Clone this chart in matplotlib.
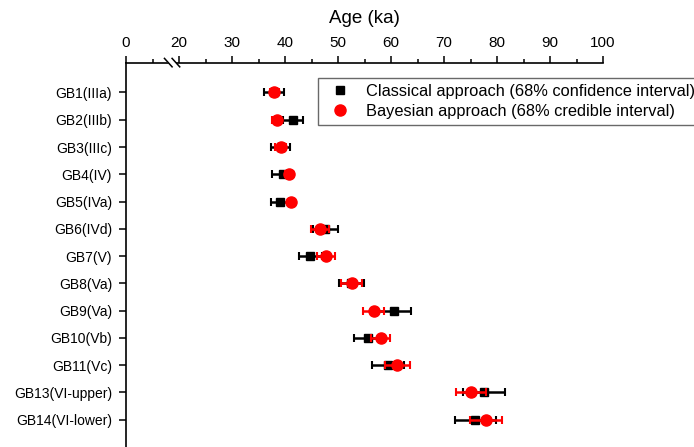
import numpy as np
import matplotlib
matplotlib.use('Agg')
import matplotlib.pyplot as plt
from matplotlib.lines import Line2D

plt.rcParams['font.family'] = ['Liberation Sans', 'DejaVu Sans']

labels = ['GB1(IIIa)', 'GB2(IIIb)', 'GB3(IIIc)', 'GB4(IV)', 'GB5(IVa)', 'GB6(IVd)', 'GB7(V)',
          'GB8(Va)', 'GB9(Va)', 'GB10(Vb)', 'GB11(Vc)', 'GB13(VI-upper)', 'GB14(VI-lower)']
classical = [38.0, 41.5, 39.2, 39.6, 39.1, 47.6, 44.8, 52.5, 60.6, 55.7, 59.4, 77.5, 75.9]
classical_err = [1.9, 1.9, 1.8, 2.0, 1.8, 2.4, 2.1, 2.4, 3.2, 2.6, 3.0, 4.0, 3.9]
bayes = [38.0, 38.4, 39.2, 40.8, 41.1, 46.6, 47.8, 52.6, 56.7, 58.1, 61.2, 75.1, 77.9]
bayes_err = [0.9, 0.8, 1.0, 0.8, 0.6, 1.7, 1.7, 2.0, 1.9, 1.8, 2.3, 2.9, 3.0]
xticks = [0, 20, 30, 40, 50, 60, 70, 80, 90, 100]
xminor = [10, 25, 35, 45, 55, 65, 75, 85, 95]


# axis is broken: 0-20 squeezed into the width of 10 units
def fwd(x):
	x = np.asarray(x, dtype=float)
	return np.where(x < 20, 10 + x / 2, x)


def inv(x):
	x = np.asarray(x, dtype=float)
	return np.where(x < 20, (x - 10) * 2, x)


fig = plt.figure(figsize=(6.94, 4.47), dpi=100)
ax = fig.add_axes([126 / 694, 0, 477 / 694, 384 / 447])
ax.set_xscale('function', functions=(fwd, inv))

y = np.arange(len(labels))

ax.errorbar(classical, y, xerr=classical_err, fmt='s', color='black', ms=6.2, lw=1.8,
			capsize=3, capthick=1.5, zorder=3)
ax.errorbar(bayes, y, xerr=bayes_err, fmt='o', color='red', ms=8, lw=1.8,
			capsize=3, capthick=1.5, zorder=4)

ax.set_xlim(0, 100)
ax.set_ylim(13.0, -1.08)
ax.set_yticks(y)
ax.set_yticklabels(labels, fontsize=10)
ax.set_xticks(xticks)
ax.set_xticklabels([str(t) for t in xticks], fontsize=11)
ax.set_xticks(xminor, minor=True)
ax.xaxis.tick_top()
ax.xaxis.set_label_position('top')
ax.set_xlabel('Age (ka)', fontsize=13.5, labelpad=9)

ax.spines['right'].set_visible(False)
ax.spines['bottom'].set_visible(False)
for s in ['top', 'left']:
	ax.spines[s].set_linewidth(1.2)
ax.tick_params(axis='x', which='major', length=5, width=1.1, pad=4.5)
ax.tick_params(axis='x', which='minor', length=2.7, width=1.1)
ax.tick_params(axis='y', which='major', length=5, width=1.1, pad=5)

# break marks on the top axis
bx = (174 - 126) / 477
ax.plot([bx - 0.014, bx + 0.004], [1.012, 0.99], transform=ax.transAxes,
		color='white', lw=4, clip_on=False, zorder=5)
for dx in (-0.012, 0.004):
	ax.plot([bx + dx - 0.008, bx + dx + 0.008], [1.012, 0.99], transform=ax.transAxes,
			color='black', lw=1.1, clip_on=False, zorder=6)

handles = [Line2D([], [], marker='s', color='black', ls='none', ms=6.2),
		   Line2D([], [], marker='o', color='red', ls='none', ms=8)]
leg = fig.legend(handles, ['Classical approach (68% confidence interval)',
						   'Bayesian approach (68% credible interval)'],
				 loc='upper left', bbox_to_anchor=(318 / 694, 1 - 78 / 447),
				 fontsize=11.8, frameon=True, fancybox=False, borderpad=0.35,
				 handletextpad=0.6, labelspacing=0.32, borderaxespad=0)
leg.get_frame().set_edgecolor('#444444')
leg.get_frame().set_linewidth(1.0)

fig.savefig('out.png', dpi=100)
